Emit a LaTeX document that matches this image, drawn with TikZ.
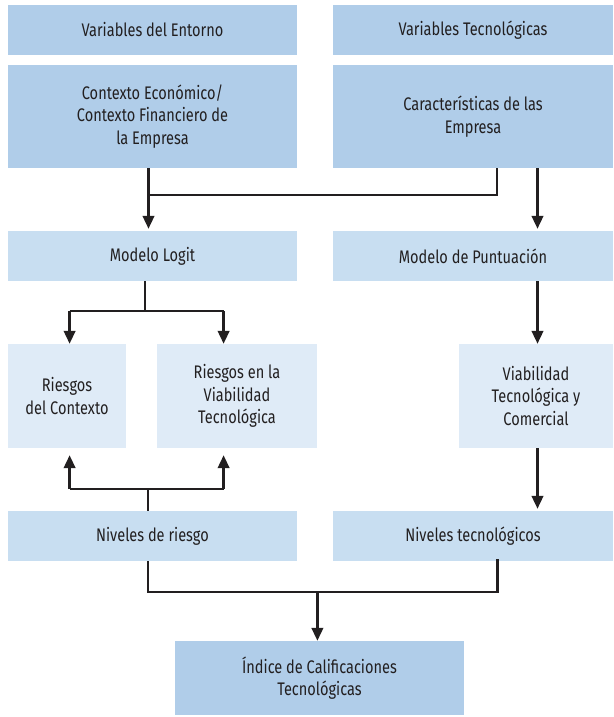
\documentclass[tikz,border=0pt]{standalone}
\usepackage{fontspec}
\setmainfont{Fira Sans}[FakeStretch=0.8]
\usetikzlibrary{arrows.meta}
\definecolor{boxdark}{RGB}{176,205,233}
\definecolor{boxmid}{RGB}{200,222,241}
\definecolor{boxlight}{RGB}{223,235,247}
\definecolor{ink}{RGB}{34,31,32}
\tikzset{
  box/.style={draw=none, inner sep=0pt, align=center, text=ink,
    font=\fontsize{18.2}{22.7}\selectfont},
  dark/.style={box, fill=boxdark},
  mid/.style={box, fill=boxmid},
  light/.style={box, fill=boxlight},
  wire/.style={draw=ink, line width=2.6pt, line join=miter},
  arrow/.style={wire, -{Triangle[length=13pt,width=11.5pt]}},
}
\begin{document}
\begin{tikzpicture}[x=1pt,y=-1pt]
\useasboundingbox (0,0) rectangle (613,717);
% top row: input variables
\node[dark, minimum width=289pt, minimum height=50pt] (v1) at (152.5,30) {Variables del Entorno};
\node[dark, minimum width=280pt, minimum height=50pt] (v2) at (473,30) {Variables Tecnológicas};
% context and company characteristics
\node[dark, minimum width=289pt, minimum height=103pt] (c1) at (152.5,116.5) {Contexto Económico/\\Contexto Financiero de\\la Empresa};
\node[dark, minimum width=280pt, minimum height=103pt] (c2) at (473,116.5) {Características de las\\Empresa};
% models
\node[mid, minimum width=289pt, minimum height=50pt] (m1) at (152.5,256) {Modelo Logit};
\node[mid, minimum width=280pt, minimum height=50pt] (m2) at (473,256) {Modelo de Puntuación};
% results of the models
\node[light, minimum width=118pt, minimum height=104pt] (r1) at (67,396) {Riesgos\\del Contexto};
\node[light, minimum width=160pt, minimum height=104pt] (r2) at (237,396) {Riesgos en la\\Viabilidad\\Tecnológica};
\node[light, minimum width=154pt, minimum height=104pt] (r3) at (536,396) {Viabilidad\\Tecnológica y\\Comercial};
% levels
\node[mid, minimum width=289pt, minimum height=50pt] (n1) at (152.5,536) {Niveles de riesgo};
\node[mid, minimum width=280pt, minimum height=50pt] (n2) at (473,536) {Niveles tecnológicos};
% final index
\node[dark, minimum width=289pt, minimum height=74pt] (ix) at (319.5,678) {Índice de Calificaciones\\Tecnológicas};

% junction points
\coordinate (j1) at (148.5,195);
\coordinate (j1r) at (497,195);
\coordinate (j2) at (537.5,0);
\coordinate (j3) at (145,311);
\coordinate (a1) at (69.6,311);
\coordinate (a2) at (223.6,311);
\coordinate (j4) at (147.8,489);
\coordinate (b1) at (69.6,489);
\coordinate (b2) at (223.6,489);
\coordinate (j5) at (147.8,592);
\coordinate (j5r) at (497.3,592);
\coordinate (j6) at (317.4,592);

% context + characteristics -> logit model
\draw[wire] (c2.south -| j1r) -- (j1r) -- (j1);
\draw[arrow, shorten >=2pt] (c1.south -| j1) -- (m1.north -| j1);
% characteristics -> scoring model
\draw[arrow, shorten >=2pt] (c2.south -| j2) -- (m2.north -| j2);
% logit model -> risks
\draw[wire] (m1.south -| j3) -- (j3);
\draw[wire] (a1) -- (a2);
\draw[arrow] (a1) -- (r1.north -| a1);
\draw[arrow] (a2) -- (r2.north -| a2);
% scoring model -> viability
\draw[arrow] (m2.south -| j2) -- (r3.north -| j2);
\draw[arrow, shorten >=2pt] (r3.south -| j2) -- (n2.north -| j2);
% risk levels -> risks
\draw[wire] (n1.north -| j4) -- (j4);
\draw[wire] (b1) -- (b2);
\draw[arrow, shorten >=7pt] (b1) -- (r1.south -| b1);
\draw[arrow, shorten >=7pt] (b2) -- (r2.south -| b2);
% levels -> final index
\draw[wire] (n1.south -| j5) -- (j5) -- (j5r) -- ([yshift=2pt]n2.south -| j5r);
\draw[arrow] (j6) -- (ix.north -| j6);
\end{tikzpicture}
\end{document}
